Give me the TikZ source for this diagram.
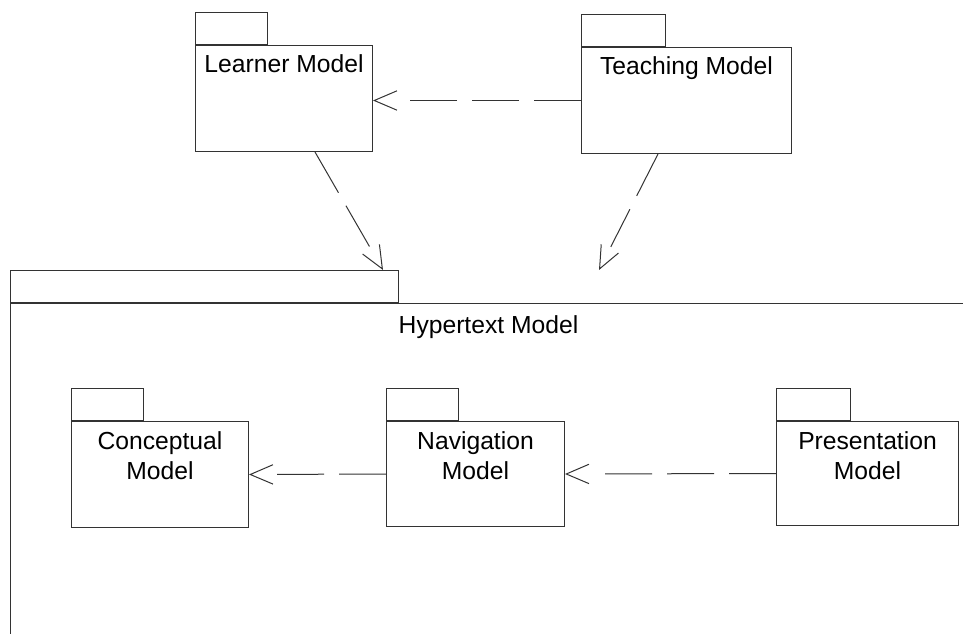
\documentclass[tikz,border=0pt]{standalone}
\usepackage{fontspec}
\setmainfont{Liberation Sans}
\usetikzlibrary{positioning,calc,arrows.meta}

\tikzset{
  pkg/.style={draw=black!80, line width=0.75pt, rectangle, inner sep=0pt, anchor=north west},
  pkgtab/.style={pkg, anchor=south west, minimum width=54pt, minimum height=24pt},
  pkgtext/.style={inner sep=0pt, align=center, font=\fontsize{18.5pt}{22.5pt}\selectfont},
  dep/.style={draw=black!80, line width=0.75pt, dash pattern=on 35.25pt off 11.25pt, shorten >=19.5pt,
    postaction={draw, shorten >=0pt, dash pattern=on 0pt off 2000pt,
      -{Straight Barb[length=17pt, width=14.5pt]}}}
}

\begin{document}
\begin{tikzpicture}[x=0.75pt,y=-0.75pt]
  \useasboundingbox (0,0) rectangle (963,634);
  \clip (0,0) rectangle (963,634);

  % Learner and Teaching packages
  \node[pkg, minimum width=132.75pt, minimum height=79.5pt] (learner) at (195,45) {};
  \node[pkgtab] (learnertab) at (learner.north west) {};
  \node[pkgtext, below=6.75pt] (learnertext) at (learner.north) {Learner Model};

  \node[pkg, minimum width=157.5pt, minimum height=79.5pt] (teaching) at (581,47) {};
  \node[pkgtab, minimum width=63pt] (teachingtab) at (teaching.north west) {};
  \node[pkgtext, below=6.75pt] (teachingtext) at (teaching.north) {Teaching Model};

  % Hypertext package (runs off the page)
  \node[pkg, minimum width=717pt, minimum height=255pt] (hyper) at (10,303) {};
  \node[pkgtab, minimum width=291pt] (hypertab) at (hyper.north west) {};
  \node[pkgtext, below=9pt] (hypertext) at (hyper.north) {Hypertext Model};

  % Inner packages
  \node[pkg, minimum width=132.75pt, minimum height=79.5pt] (conceptual) at (71,421) {};
  \node[pkgtab] (conceptualtab) at (conceptual.north west) {};
  \node[pkgtext, below=7.5pt] (conceptualtext) at (conceptual.north) {Conceptual\\Model};

  \node[pkg, minimum width=133.5pt, minimum height=78.75pt] (navigation) at (386,421) {};
  \node[pkgtab] (navigationtab) at (navigation.north west) {};
  \node[pkgtext, below=7.5pt] (navigationtext) at (navigation.north) {Navigation\\Model};

  \node[pkg, minimum width=136.5pt, minimum height=78pt] (presentation) at (776,421) {};
  \node[pkgtab, minimum width=55.5pt] (presentationtab) at (presentation.north west) {};
  \node[pkgtext, below=7.5pt] (presentationtext) at (presentation.north) {Presentation\\Model};

  % Dependencies
  \draw[dep] (teaching.west) -- (teaching.west -| learner.east);
  \draw[dep] ($(learner.south west)+(120,0)$) -- ($(hypertab.north east)+(-16,0)$);
  \draw[dep] ($(teaching.south west)+(77,0)$) -- ($(hypertab.north east)+(200,0)$);
  \draw[dep] (navigation.west) -- (conceptual.east);
  \draw[dep] (presentation.west) -- (navigation.east);
\end{tikzpicture}
\end{document}
